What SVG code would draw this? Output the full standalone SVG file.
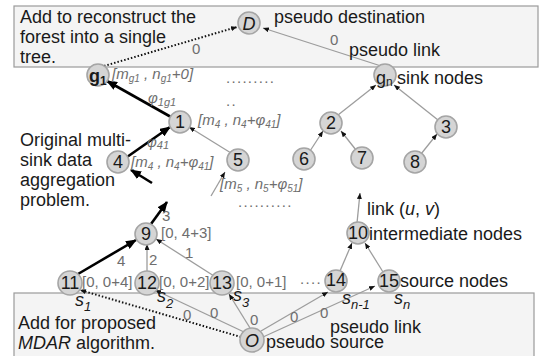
<svg xmlns="http://www.w3.org/2000/svg" width="543" height="356" viewBox="0 0 543 356">
<defs>
<marker id="big" markerUnits="userSpaceOnUse" markerWidth="11" markerHeight="9" refX="10" refY="4.5" orient="auto"><path d="M0,0 L11,4.5 L0,9 z" fill="#000"/></marker>
<marker id="sm" markerUnits="userSpaceOnUse" markerWidth="6" markerHeight="5" refX="6" refY="2.5" orient="auto"><path d="M0,0 L6,2.5 L0,5 z" fill="#111"/></marker>
</defs>
<style>
text{font-family:"Liberation Sans",Arial,sans-serif;}
.t{font-size:18px;fill:#1a1a1a;}
.n{font-size:18px;fill:#1a1a1a;text-anchor:middle;}
.lb{font-size:15px;fill:#6e6e6e;font-style:italic;}
.nb{font-size:15px;fill:#6e6e6e;}
.dd{font-size:15px;fill:#6e6e6e;letter-spacing:1.3px;}
.e{font-size:15px;fill:#6e6e6e;}
.box{fill:#f4f4f4;stroke:#9a9a9a;stroke-width:1.2;}
.nd{fill:#d5d5d5;stroke:#a5a5a5;stroke-width:1.6;}
.thick{stroke:#000;stroke-width:2.6;fill:none;marker-end:url(#big);}
.thin{stroke:#9d9d9d;stroke-width:1.3;fill:none;marker-end:url(#sm);}
.dot{stroke:#111;stroke-width:2;stroke-dasharray:1.5 2;fill:none;marker-end:url(#sm);}
</style>
<rect class="box" x="14" y="6" width="524" height="61"/>
<rect class="box" x="14" y="293" width="520" height="64"/>
<g id="connectors">
<line class="dot" x1="104" y1="66" x2="237" y2="27"/>
<line class="thin" x1="381" y1="66" x2="263" y2="28"/>
<line class="thick" x1="171" y1="117" x2="107" y2="81"/>
<line class="thick" x1="127" y1="157" x2="170" y2="127"/>
<line class="thick" x1="152" y1="183" x2="131" y2="170"/>
<line class="thick" x1="151" y1="224" x2="167" y2="202"/>
<line class="thick" x1="78" y1="274" x2="136" y2="240"/>
<line class="thin" x1="231" y1="153" x2="189" y2="127"/>
<line class="thin" x1="211" y1="196" x2="225" y2="172"/>
<line class="thin" x1="147" y1="272" x2="147" y2="244"/>
<line class="thin" x1="214" y1="276" x2="156" y2="239"/>
<line class="thin" x1="340" y1="271" x2="352" y2="243"/>
<line class="thin" x1="383" y1="272" x2="365" y2="243"/>
<line class="thin" x1="357" y1="223" x2="360" y2="193"/>
<line class="thin" x1="338" y1="115" x2="376" y2="85"/>
<line class="thin" x1="438" y1="120" x2="394" y2="85"/>
<line class="thin" x1="310" y1="151" x2="323" y2="131"/>
<line class="thin" x1="356" y1="150" x2="341" y2="131"/>
<line class="thin" x1="421" y1="154" x2="437" y2="134"/>
<line class="dot" x1="241" y1="337" x2="80" y2="290"/>
<line class="thin" x1="244" y1="332" x2="155" y2="290"/>
<line class="thin" x1="250" y1="328" x2="229" y2="294"/>
<line class="thin" x1="261" y1="331" x2="328" y2="292"/>
<line class="thin" x1="263" y1="337" x2="375" y2="286"/>
<text class="e" x="192" y="54">0</text>
<text class="e" x="330" y="45">0</text>
<text class="e" x="117" y="266">4</text>
<text class="e" x="149" y="265">2</text>
<text class="e" x="185" y="258">1</text>
<text class="e" x="162" y="221">3</text>
<text class="e" x="183" y="320">0</text>
<text class="e" x="210" y="318">0</text>
<text class="e" x="250" y="325">0</text>
<text class="e" x="290" y="322">0</text>
<text class="e" x="320" y="318">0</text>
<text class="lb" x="148" y="103">φ<tspan font-size="11" dy="3">1g1</tspan></text>
<text class="lb" x="147" y="147">φ<tspan font-size="11" dy="2">41</tspan></text>
</g>
<g id="node-D"><circle class="nd" cx="249" cy="23" r="11"/><text class="n" x="249" y="30" font-style="italic">D</text></g>
<g id="node-g1"><circle class="nd" cx="98" cy="75" r="11"/><text class="t" x="89" y="82" font-weight="bold">g<tspan font-size="12" dy="3">1</tspan></text></g>
<g id="node-gn"><circle class="nd" cx="385" cy="75" r="11"/><text class="t" x="376" y="84">g<tspan font-size="12" dy="2">n</tspan></text></g>
<g id="node-1"><circle class="nd" cx="180" cy="122" r="11"/><text class="n" x="180" y="128">1</text></g>
<g id="node-4"><circle class="nd" cx="118" cy="162" r="11"/><text class="n" x="118" y="168">4</text></g>
<g id="node-5"><circle class="nd" cx="238" cy="160" r="11"/><text class="n" x="238" y="166">5</text></g>
<g id="node-2"><circle class="nd" cx="331" cy="123" r="11"/><text class="n" x="331" y="129">2</text></g>
<g id="node-3"><circle class="nd" cx="446" cy="127" r="11"/><text class="n" x="446" y="133">3</text></g>
<g id="node-6"><circle class="nd" cx="304" cy="159" r="11"/><text class="n" x="304" y="165">6</text></g>
<g id="node-7"><circle class="nd" cx="362" cy="158" r="11"/><text class="n" x="362" y="164">7</text></g>
<g id="node-8"><circle class="nd" cx="415" cy="162" r="11"/><text class="n" x="415" y="168">8</text></g>
<g id="node-9"><circle class="nd" cx="146" cy="234" r="11"/><text class="n" x="146" y="240">9</text></g>
<g id="node-10"><circle class="nd" cx="358" cy="233" r="11"/><text class="n" x="358" y="239">10</text></g>
<g id="node-11"><circle class="nd" cx="70" cy="283" r="12"/><text class="n" x="70" y="289">11</text></g>
<g id="node-12"><circle class="nd" cx="147" cy="283" r="12"/><text class="n" x="147" y="289">12</text></g>
<g id="node-13"><circle class="nd" cx="222" cy="283" r="12"/><text class="n" x="222" y="289">13</text></g>
<g id="node-14"><circle class="nd" cx="336" cy="281" r="11"/><text class="n" x="336" y="286" font-size="14">14</text></g>
<g id="node-15"><circle class="nd" cx="389" cy="281" r="11"/><text class="n" x="389" y="287">15</text></g>
<g id="node-O"><circle class="nd" cx="252" cy="340" r="12"/><text class="n" x="252" y="347" font-style="italic">O</text></g>
<g id="labels">
<text class="t" x="20" y="23">Add to reconstruct the</text>
<text class="t" x="20" y="43">forest into a single</text>
<text class="t" x="20" y="63">tree.</text>
<text class="t" x="274" y="23">pseudo destination</text>
<text class="t" x="349" y="56">pseudo link</text>
<text class="t" x="397" y="84">sink nodes</text>
<text class="t" x="20" y="146">Original multi-</text>
<text class="t" x="20" y="166">sink data</text>
<text class="t" x="20" y="186">aggregation</text>
<text class="t" x="20" y="206">problem.</text>
<text class="t" x="367" y="215">link (<tspan font-style="italic">u</tspan>, <tspan font-style="italic">v</tspan>)</text>
<text class="t" x="369" y="240">intermediate nodes</text>
<text class="t" x="400" y="287">source nodes</text>
<text class="t" x="330" y="333">pseudo link</text>
<text class="t" x="266" y="348">pseudo source</text>
<text class="t" x="18" y="329">Add for proposed</text>
<text class="t" x="18" y="349"><tspan font-style="italic">MDAR</tspan> algorithm.</text>
<text class="lb" x="112" y="79">[m<tspan font-size="10" dy="3">g1</tspan><tspan dy="-3"> , n</tspan><tspan font-size="10" dy="3">g1</tspan><tspan dy="-3">+0]</tspan></text>
<text class="lb" x="198" y="125">[m<tspan font-size="10" dy="3">4</tspan><tspan dy="-3"> , n</tspan><tspan font-size="10" dy="3">4</tspan><tspan dy="-3">+φ</tspan><tspan font-size="10" dy="3">41</tspan><tspan dy="-3">]</tspan></text>
<text class="lb" x="131" y="167">[m<tspan font-size="10" dy="3">4</tspan><tspan dy="-3"> , n</tspan><tspan font-size="10" dy="3">4</tspan><tspan dy="-3">+φ</tspan><tspan font-size="10" dy="3">41</tspan><tspan dy="-3">]</tspan></text>
<text class="lb" x="220" y="189">[m<tspan font-size="10" dy="3">5</tspan><tspan dy="-3"> , n</tspan><tspan font-size="10" dy="3">5</tspan><tspan dy="-3">+φ</tspan><tspan font-size="10" dy="3">51</tspan><tspan dy="-3">]</tspan></text>
<text class="dd" x="226" y="83">.........</text>
<text class="dd" x="226" y="106">..</text>
<text class="dd" x="238" y="207">..........</text>
<text class="dd" x="300" y="284">....</text>
<text class="nb" x="161" y="238">[0, 4+3]</text>
<text class="nb" x="82" y="287">[0, 0+4]</text>
<text class="nb" x="159" y="287">[0, 0+2]</text>
<text class="nb" x="236" y="287">[0, 0+1]</text>
<text class="t" x="75" y="306" font-style="italic">s<tspan font-size="13" dy="5">1</tspan></text>
<text class="t" x="157" y="302" font-style="italic">s<tspan font-size="13" dy="6">2</tspan></text>
<text class="t" x="233" y="301" font-style="italic">s<tspan font-size="13" dy="6">3</tspan></text>
<text class="t" x="342" y="304" font-style="italic">s<tspan font-size="13" dy="5">n-1</tspan></text>
<text class="t" x="394" y="304" font-style="italic">s<tspan font-size="13" dy="5">n</tspan></text>
</g>
</svg>
